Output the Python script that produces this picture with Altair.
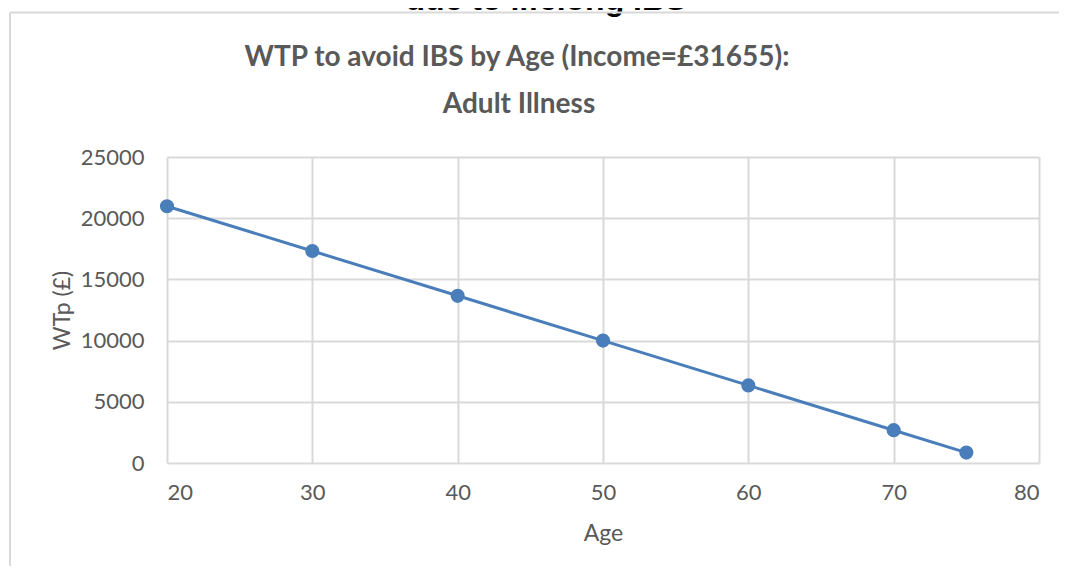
import altair as alt
import pandas as pd

# ---- data ----
ages = [20, 30, 40, 50, 60, 70, 75]
wtp = [20980, 17320, 13660, 10000, 6340, 2680, 850]
x_ticks = [20, 30, 40, 50, 60, 70, 80]
y_ticks = [0, 5000, 10000, 15000, 20000, 25000]
title_line1 = ["WTP to avoid IBS by Age (Income=£31655):"]
title_line2 = ["Adult Illness"]
header_text = ["due to lifelong IBS"]

df = pd.DataFrame({"Age": ages, "WTp": wtp})

FONT = "Lato"
GRAY = "#595959"
GRID = "#d9d9d9"
BLUE = "#4a7ebb"

x_enc = alt.X(
    "Age:Q",
    scale=alt.Scale(domain=[20, 80], nice=False, zero=False),
    axis=alt.Axis(
        values=x_ticks, format="d", title="Age", grid=True, gridColor=GRID, gridWidth=2,
        domain=False, ticks=False, labelFont=FONT, labelFontSize=22,
        labelColor=GRAY, labelPadding=19, titleFont=FONT, titleFontSize=23,
        titleFontWeight="normal", titleColor=GRAY, titlePadding=19,
    ),
)
y_enc = alt.Y(
    "WTp:Q",
    scale=alt.Scale(domain=[0, 25000], nice=False),
    axis=alt.Axis(
        values=y_ticks, format="d", title="WTp (£)", grid=True, gridColor=GRID, gridWidth=2,
        domain=False, ticks=False, labelFont=FONT, labelFontSize=22,
        labelColor=GRAY, labelPadding=23, titleFont=FONT, titleFontSize=23,
        titleFontWeight="normal", titleColor=GRAY, titlePadding=6,
    ),
)

line = alt.Chart(df).mark_line(color=BLUE, strokeWidth=3).encode(x=x_enc, y=y_enc)
pts = alt.Chart(df).mark_circle(color=BLUE, size=200, opacity=1).encode(x="Age:Q", y="WTp:Q")

one = pd.DataFrame({"k": [0]})
frame_left = alt.Chart(one).mark_rule(color=GRID, strokeWidth=2).encode(
    x=alt.value(-157), y=alt.value(-144.5), y2=alt.value(420)
)
frame_top = alt.Chart(one).mark_rule(color=GRID, strokeWidth=2).encode(
    x=alt.value(-157), x2=alt.value(900), y=alt.value(-144.5)
)

header = alt.Chart(pd.DataFrame({"t": header_text})).mark_text(
    font="Liberation Sans", fontSize=32, fontWeight="bold", color="#000000",
    align="center", baseline="alphabetic",
).encode(text="t:N", x=alt.value(379), y=alt.value(-147))

t1 = alt.Chart(pd.DataFrame({"t": title_line1})).mark_text(
    font=FONT, fontSize=28, fontWeight="bold", color=GRAY,
    align="center", baseline="alphabetic",
).encode(text="t:N", x=alt.value(350), y=alt.value(-91))

t2 = alt.Chart(pd.DataFrame({"t": title_line2})).mark_text(
    font=FONT, fontSize=28, fontWeight="bold", color=GRAY,
    align="center", baseline="alphabetic",
).encode(text="t:N", x=alt.value(352), y=alt.value(-44))

chart = (
    alt.layer(line, pts, header, frame_left, frame_top, t1, t2)
    .properties(
        width=872, height=306, autosize="none",
        padding={"left": 159, "top": 149, "right": 20, "bottom": 103},
    )
    .configure_view(strokeWidth=0)
)

chart.save("out.html", embed_options={"renderer": "svg", "actions": False})
